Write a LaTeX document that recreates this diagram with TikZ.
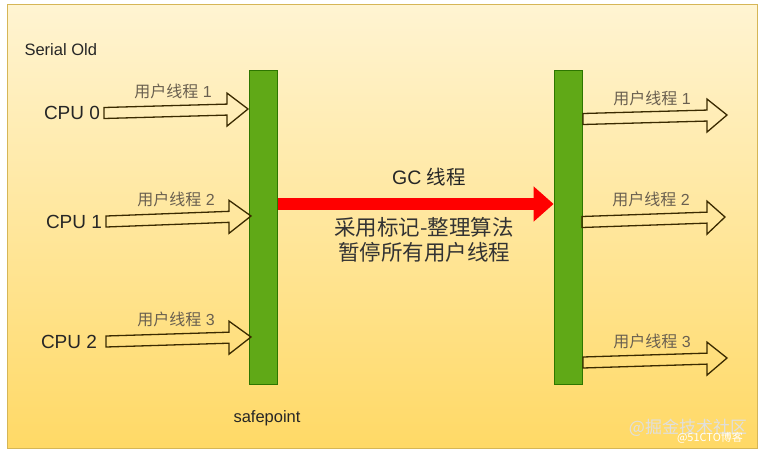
\documentclass[tikz,border=0pt]{standalone}
\usepackage{fontspec}
\setmainfont{Liberation Sans}
\newfontfamily\cjk{Noto Sans CJK SC}
\usetikzlibrary{arrows.meta,calc}
\definecolor{bgtop}{HTML}{FFF4D2}
\definecolor{bgbot}{HTML}{FFD966}
\definecolor{bgline}{HTML}{D6B656}
\definecolor{barfill}{HTML}{60A917}
\definecolor{barline}{HTML}{2D7600}
\definecolor{arrline}{HTML}{3A2A00}
\definecolor{lblgray}{HTML}{6A6050}
\newcommand\fsz[1]{\fontsize{#1}{#1}\selectfont}
\newcommand\blockarrow[6]{% name, tail x, tail y, head start x, tip x, tip y
  \pgfmathsetmacro\bayh{#3+(#6-#3)*(#4-#2)/(#5-#2)}
  \draw[hollow] (#2,#3-5.5) -- (#4,\bayh-5.5) -- (#4,\bayh-16.5) -- (#5,#6)
     -- (#4,\bayh+16.5) -- (#4,\bayh+5.5) -- (#2,#3+5.5) -- cycle;
  \coordinate (#1) at (#5,#6);
}
\begin{document}
\begin{tikzpicture}[x=1pt,y=-1pt,
  bar/.style={draw=barline, fill=barfill, line width=0.8pt, inner sep=0pt,
              minimum width=28pt, minimum height=314pt},
  hollow/.style={draw=arrline, line width=1.3pt, line join=miter},
  cpu/.style={font=\fsz{19}, text=black!85},
  thr/.style={font=\fsz{16}, text=lblgray},
  gc/.style={font=\fsz{19.5}, text=black!85},
  plain/.style={font=\fsz{16.5}, text=black!85}]
\useasboundingbox (0,0) rectangle (764,456);
\fill[white] (0,0) rectangle (764,456);
\shade[top color=bgtop, bottom color=bgbot] (7,4) rectangle (757,448);
\draw[bgline, line width=0.8pt] (7,4) rectangle (757,448);

\node[plain, anchor=west] (serial) at (21,50) {Serial Old};

% safepoint bars
\node[bar] (L) at (263.5,227) {};
\node[bar] (R) at (568,227) {};
\node[plain] (safe) at (267,418) {safepoint};

% left side
\node[cpu] (c0) at (72,113) {CPU 0};
\node[cpu] (c1) at (74,222) {CPU 1};
\node[cpu] (c2) at (69,342) {CPU 2};
\blockarrow{la1}{104}{113}{227}{248}{109}
\blockarrow{la2}{106}{221.5}{229}{251}{216}
\blockarrow{la3}{106}{341.5}{229}{251}{337}
\node[thr] (lt1) at (173,91) {{\cjk 用户线程} 1};
\node[thr] (lt2) at (176,199) {{\cjk 用户线程} 2};
\node[thr] (lt3) at (176,319) {{\cjk 用户线程} 3};

% GC thread
\coordinate (gy) at (0,204);
\draw[red, line width=12pt, -{Triangle[length=20pt,width=34pt]}] (L.east |- gy) -- (R.west |- gy);
\node[gc] (gct) at (429,177) {GC {\cjk 线程}};
\node[gc, align=center, font=\fsz{21.5}\cjk, inner sep=0pt, text=black!80] (gcd) at (424,240) {采用标记-整理算法\\[3pt]暂停所有用户线程};

% right side
\blockarrow{ra1}{583}{119}{707}{727}{115}
\blockarrow{ra2}{582}{222}{707}{725}{217}
\blockarrow{ra3}{583}{362.5}{707}{727}{358}
\node[thr] (rt1) at (652,98) {{\cjk 用户线程} 1};
\node[thr] (rt2) at (651,199) {{\cjk 用户线程} 2};
\node[thr] (rt3) at (652,341) {{\cjk 用户线程} 3};

% watermarks
\node[font=\fsz{17}\cjk, text=white!75!gray] (wm1) at (688,428) {@掘金技术社区};
\node[font=\fsz{11}\cjk, text=white] (wm2) at (710,438) {@51CTO博客};
\end{tikzpicture}
\end{document}
